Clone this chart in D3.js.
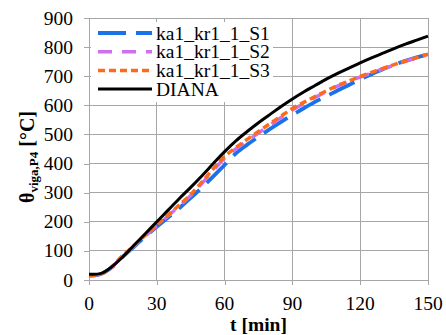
<!DOCTYPE html>
<html><head><meta charset="utf-8">
<script src="https://cdn.jsdelivr.net/npm/d3@7"></script>
</head>
<body style="margin:0">
<svg id="chart" width="446" height="335"></svg>
<script>
const time = [0,2.5,5,10,15,20,25,30,35,40,45,50,55,60,65,70,75,80,85,90,95,100,105,110,115,120,125,130,135,140,145,150];
const seriesNames = ["ka1_kr1_1_S1","ka1_kr1_1_S2","ka1_kr1_1_S3","DIANA"];
const s1 = [15,16,20,43,80,115,150,183,215,247,282,318,356,395,435,465,492,518,543,567,590,612,631,651,670,689,707,724,739,753,765,775];
const s2 = [15,16,20,44,83,117,152,186,220,255,290,332,376,418,450,478,505,532,558,584,606,627,647,666,682,697,711,725,738,751,763,775];
const s3 = [15,16,20,45,85,118,154,188,223,258,294,337,382,424,455,483,510,537,563,589,610,630,650,668,684,699,713,727,740,752,764,776];
const diana = [20,20,22,45,80,120,160,200,240,280,318,358,400,441,478,510,540,568,596,622,646,668,690,710,728,746,763,779,795,810,824,838];
const xTicks = [0,30,60,90,120,150];
const yTicks = [0,100,200,300,400,500,600,700,800,900];
const colors = ["#1a72ea","#cc70f0","#ff6a1a","#000000"];

const FONT = "Times New Roman";
const svg = d3.select("#chart");
const x = d3.scaleLinear().domain([0,150]).range([89,428]);
const y = d3.scaleLinear().domain([0,900]).range([280,18]);
const grid = "#a6a6a6";

// grid
svg.append("g").selectAll("line").data(yTicks.slice(1)).join("line")
  .attr("x1",x(0)).attr("x2",x(150)).attr("y1",d=>y(d)).attr("y2",d=>y(d))
  .attr("stroke",grid).attr("stroke-width",1).attr("shape-rendering","crispEdges");
svg.append("g").selectAll("line").data(xTicks.slice(1)).join("line")
  .attr("x1",d=>x(d)).attr("x2",d=>x(d)).attr("y1",y(0)).attr("y2",y(900))
  .attr("stroke",grid).attr("stroke-width",1).attr("shape-rendering","crispEdges");

// axes (lines drawn by d3 axis, labels added as plain svg texts)
const yAxis = d3.axisLeft(y).tickValues(yTicks).tickSize(5).tickFormat(()=> "");
svg.append("g").attr("transform",`translate(${x(0)},0)`).call(yAxis)
  .selectAll("path,line").attr("stroke",grid).attr("shape-rendering","crispEdges");
const xAxis = d3.axisBottom(x).tickValues(xTicks).tickSize(5).tickFormat(()=> "");
svg.append("g").attr("transform",`translate(0,${y(0)})`).call(xAxis)
  .selectAll("path,line").attr("stroke",grid).attr("shape-rendering","crispEdges");

yTicks.forEach(v=>{
  svg.append("text").attr("x",x(0)-16).attr("y",y(v)+6.5).attr("text-anchor","end")
    .attr("font-size",19.5).attr("font-family",FONT).text(d3.format("d")(v));
});
xTicks.forEach(v=>{
  svg.append("text").attr("x",x(v)).attr("y",310).attr("text-anchor","middle")
    .attr("font-size",19.5).attr("font-family",FONT).text(d3.format("d")(v));
});

// lines
const data = [s1,s2,s3,diana];
const styles = [
  {w:3.8, dash:"28,10"},
  {w:3.5, dash:"14,10"},
  {w:3.5, dash:"7,4"},
  {w:3, dash:null}
];
const line = d3.line().x((d,i)=>x(time[i])).y(d=>y(d)).curve(d3.curveMonotoneX);
data.forEach((s,k)=>{
  svg.append("path").datum(s).attr("d",line).attr("fill","none")
    .attr("stroke",colors[k]).attr("stroke-width",styles[k].w)
    .attr("stroke-dasharray",styles[k].dash);
});

// legend
svg.append("rect").attr("x",91).attr("y",22).attr("width",182).attr("height",80).attr("fill","#fff");
seriesNames.forEach((n,k)=>{
  const yy = 33 + k*18.7;
  svg.append("line").attr("x1",98).attr("x2",152).attr("y1",yy).attr("y2",yy)
    .attr("stroke",colors[k]).attr("stroke-width",styles[k].w).attr("stroke-dasharray",styles[k].dash);
  svg.append("text").attr("x",156).attr("y",yy+6.5).attr("font-size",19.5).attr("font-family",FONT).text(n);
});

// axis titles
svg.append("text").attr("x",(x(0)+x(150))/2).attr("y",331).attr("text-anchor","middle")
  .attr("font-family",FONT).attr("font-size",19.5).attr("font-weight","bold").text("t [min]");
const yt = svg.append("text").attr("transform",`translate(34,${(y(0)+y(900))/2+8}) rotate(-90)`)
  .attr("text-anchor","middle").attr("font-family",FONT).attr("font-weight","bold").attr("font-size",20);
yt.append("tspan").text("θ");
yt.append("tspan").attr("font-size",13).attr("dy",4).text("viga,P4");
yt.append("tspan").attr("dy",-4).text(" [°C]");
</script>
</body></html>
